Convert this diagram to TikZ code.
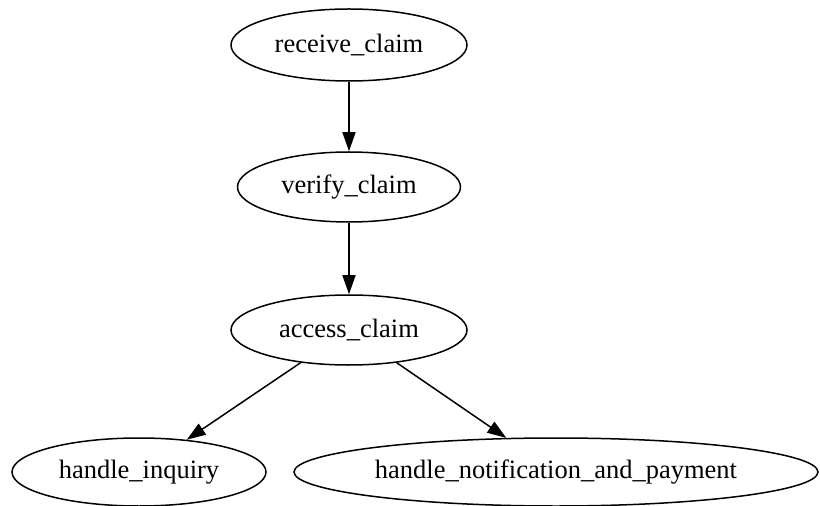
\documentclass[tikz,border=0pt]{standalone}
\usepackage{fontspec}
\setmainfont{Liberation Serif}
\usetikzlibrary{shapes.geometric,arrows.meta}
\tikzset{
  state/.style={draw, ellipse, line width=1.5bp, inner sep=0pt,
    font=\fontsize{26.6}{30}\selectfont},
  flow/.style={line width=1.5bp, -{Triangle[length=19bp,width=13bp]}}
}
\begin{document}
\begin{tikzpicture}[x=1bp,y=-1bp]
\useasboundingbox (0,0) rectangle (820,506);
\node[state, minimum width=236bp, minimum height=72bp] (recv) at (349,45) {receive\_claim};
\node[state, minimum width=223bp, minimum height=70bp] (verify) at (349,187) {verify\_claim};
\node[state, minimum width=236bp, minimum height=70bp] (access) at (349,330) {access\_claim};
\node[state, minimum width=254bp, minimum height=68bp] (inquiry) at (139,472) {handle\_inquiry};
\node[state, minimum width=524bp, minimum height=68bp] (notify) at (556,472) {handle\_notification\_and\_payment};
\draw[flow] (recv) -- (verify);
\draw[flow] (verify) -- (access);
\draw[flow] (access) -- (inquiry);
\draw[flow] (access) -- (notify);
\end{tikzpicture}
\end{document}
